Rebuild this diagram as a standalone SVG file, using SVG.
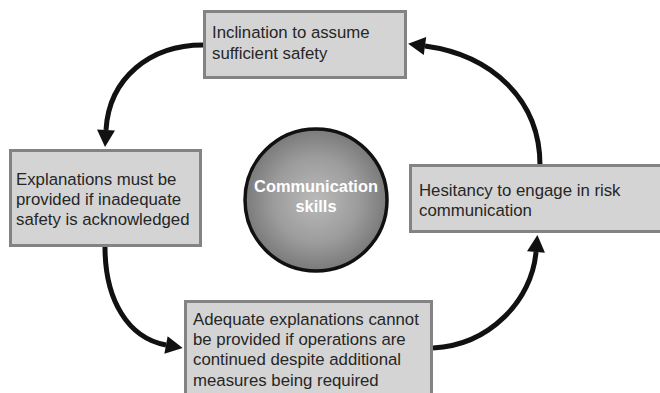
<svg xmlns="http://www.w3.org/2000/svg" width="660" height="393" viewBox="0 0 660 393">
  <style>
    .box { fill: #d4d4d4; stroke: #838383; stroke-width: 3; }
    .label { font-family: "Liberation Sans", Arial, sans-serif; font-size: 16.8px; fill: #262626; }
    .hub { font-family: "Liberation Sans", Arial, sans-serif; font-size: 16.4px; font-weight: bold; fill: #ffffff; text-anchor: middle; }
    .flow { fill: none; stroke: #111111; stroke-width: 5; stroke-linecap: butt; marker-end: url(#head); }
  </style>
  <defs>
    <marker id="head" markerUnits="userSpaceOnUse" markerWidth="18" markerHeight="18" viewBox="0 0 17 18" refX="0" refY="9" orient="auto">
      <path d="M0,0 L17,9 L0,18 Z" fill="#111111"/>
    </marker>
    <radialGradient id="hubFill" cx="50%" cy="50%" r="50%">
      <stop offset="0%" stop-color="#bababa"/>
      <stop offset="60%" stop-color="#9c9c9c"/>
      <stop offset="100%" stop-color="#7a7a7a"/>
    </radialGradient>
  </defs>

  <rect width="660" height="393" fill="#ffffff"/>

  <!-- cycle connectors -->
  <g id="connectors">
    <path class="flow" d="M203,45 C150,45 109,78 106,130"/>
    <path class="flow" d="M105,247 C105,300 128,338 166,345"/>
    <path class="flow" d="M433,348 C490,345 532,300 536,252"/>
    <path class="flow" d="M540,165 C540,100 492,55 425,46"/>
  </g>

  <!-- central hub -->
  <g id="hub">
    <circle cx="316" cy="200" r="71" fill="url(#hubFill)" stroke="#111111" stroke-width="3.5"/>
    <text class="hub" x="316" y="192">Communication</text>
    <text class="hub" x="316" y="212">skills</text>
  </g>

  <g id="node-top">
    <rect class="box" x="204.5" y="11.5" width="201" height="66"/>
    <text class="label" x="212" y="38">Inclination to assume</text>
    <text class="label" x="212" y="59">sufficient safety</text>
  </g>

  <g id="node-left">
    <rect class="box" x="10.5" y="150.5" width="190" height="95"/>
    <text class="label" x="16" y="185">Explanations must be</text>
    <text class="label" x="16" y="205">provided if inadequate</text>
    <text class="label" x="16" y="225">safety is acknowledged</text>
  </g>

  <g id="node-bottom">
    <rect class="box" x="185.5" y="301.5" width="246" height="100"/>
    <text class="label" x="193" y="325">Adequate explanations cannot</text>
    <text class="label" x="193" y="345">be provided if operations are</text>
    <text class="label" x="193" y="365">continued despite additional</text>
    <text class="label" x="193" y="385.5">measures being required</text>
  </g>

  <g id="node-right">
    <rect class="box" x="410.5" y="165.5" width="260" height="66"/>
    <text class="label" x="419" y="196">Hesitancy to engage in risk</text>
    <text class="label" x="419" y="215.5">communication</text>
  </g>
</svg>
